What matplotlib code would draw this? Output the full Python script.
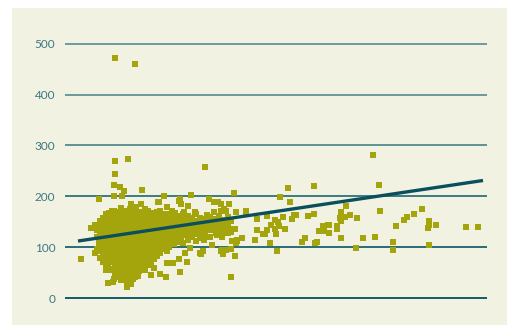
import matplotlib
matplotlib.use("Agg")
import matplotlib.pyplot as plt
from matplotlib.patches import Rectangle

# y axis
y_ticks = [0, 100, 200, 300, 400, 500]
y_tick_labels = ["0", "100", "200", "300", "400", "500"]
grid_colors = ["#135b67", "#2b6c74", "#3d7b81", "#5f9393", "#6a9a99", "#6d9c9b"]

# scattered observations (outer part of the cloud)
obs_x = [50, 70, 50, 63, 50, 49, 55, 59, 49, 57, 77, 34, 66, 76, 93,
         140, 99, 126, 169, 94, 115, 114, 116, 144, 149, 153, 156, 164, 123, 102,
         223, 249, 215, 225, 171, 181, 181, 192, 202, 218, 227, 229, 231, 243, 249,
         210, 213, 206, 214, 220, 210, 202, 211, 192, 198, 200, 170, 166, 190, 177,
         172, 171, 167, 205, 212, 170, 166, 166, 237, 240, 250, 252, 254, 258, 259,
         263, 264, 264, 272, 272, 276, 275, 276, 276, 281, 280, 285, 292, 291, 298,
         308, 314, 315, 310, 328, 328, 331, 339, 342, 349, 357, 364, 364, 363, 371,
         364, 401, 413,
         142, 149, 156, 161, 154, 166, 147, 156, 158, 161, 152, 152, 154, 158, 139,
         138, 136, 92, 107, 118, 130, 159, 163, 169, 172, 125, 135, 157, 120, 122,
         114, 102, 108, 115, 95, 101, 86, 89, 102, 109, 118,
         16, 30, 34, 26, 30, 35, 38, 43, 49, 40, 41, 43, 49, 48, 62,
         66, 58, 70, 73, 59, 43]
obs_y = [472, 460, 270, 274, 243, 223, 218, 210, 201, 201, 213, 195, 184, 184, 188,
         258, 201, 203, 207, 188, 195, 190, 184, 195, 188, 188, 184, 184, 180, 178,
         217, 221, 199, 188, 170, 172, 168, 156, 162, 160, 156, 164, 164, 162, 166,
         154, 150, 144, 141, 135, 135, 133, 125, 133, 125, 125, 135, 129, 115, 117,
         115, 109, 113, 109, 92, 82, 97, 41, 111, 117, 109, 111, 131, 141, 131,
         144, 127, 143, 141, 135, 117, 158, 170, 152, 180, 160, 164, 158, 99, 117,
         282, 223, 172, 119, 111, 94, 141, 154, 160, 166, 174, 152, 144, 137, 143,
         105, 139, 139,
         164, 170, 172, 172, 162, 152, 105, 93, 86, 95, 123, 135, 135, 133, 115,
         93, 86, 170, 172, 166, 170, 174, 127, 135, 113, 99, 88, 95, 88, 70,
         76, 68, 68, 52, 48, 41, 45, 60, 93, 107, 109,
         76, 88, 109, 137, 144, 141, 129, 156, 172, 74, 56, 29, 37, 31, 21,
         27, 39, 41, 43, 50, 66]

# dense centre of the cloud, one list of values per column
core_x = [32, 35, 38, 41, 44, 47, 50, 53, 56, 59, 62, 65, 68, 71, 74, 77, 80,
          83, 86, 89, 92, 95, 98, 101, 104, 107, 110, 113, 116, 119, 123, 127,
          131, 135, 140, 145, 151, 157, 163]
core_y = [
    [96, 120, 133],
    [78, 92, 104, 116, 128, 140, 152],
    [70, 84, 96, 108, 120, 132, 145, 158],
    [64, 76, 88, 99, 110, 121, 132, 143, 155, 166],
    [58, 70, 81, 92, 101, 113, 122, 134, 146, 158, 168],
    [55, 70, 84, 93, 104, 112, 121, 130, 141, 150, 163, 171],
    [48, 63, 74, 86, 95, 103, 111, 120, 128, 137, 146, 155, 166],
    [42, 58, 68, 79, 88, 97, 106, 114, 123, 131, 140, 149, 158, 170],
    [35, 52, 63, 72, 83, 91, 100, 109, 117, 126, 134, 143, 151, 162, 176],
    [46, 57, 66, 76, 85, 94, 102, 111, 119, 128, 137, 146, 154, 165, 172],
    [33, 50, 61, 70, 80, 88, 97, 105, 114, 122, 131, 139, 148, 157, 168],
    [44, 55, 64, 74, 83, 92, 100, 108, 117, 125, 134, 143, 152, 161, 174],
    [38, 52, 62, 71, 80, 89, 97, 106, 114, 123, 131, 140, 149, 158, 167],
    [47, 58, 67, 77, 86, 95, 103, 112, 120, 129, 137, 146, 155, 164, 178],
    [54, 64, 73, 82, 91, 99, 108, 116, 125, 134, 142, 151, 160, 170],
    [60, 70, 79, 88, 97, 105, 114, 122, 131, 139, 148, 157, 166],
    [56, 67, 76, 85, 94, 102, 111, 119, 128, 136, 145, 154, 163, 175],
    [64, 73, 82, 91, 100, 108, 117, 125, 134, 142, 151, 160, 171],
    [70, 80, 89, 97, 106, 114, 123, 131, 140, 149, 158, 168],
    [76, 86, 95, 103, 112, 120, 129, 137, 146, 155, 164],
    [82, 92, 101, 110, 118, 127, 135, 144, 153, 162],
    [88, 99, 108, 116, 125, 133, 142, 150, 159, 172],
    [96, 106, 114, 123, 131, 140, 149, 157, 166],
    [102, 113, 122, 130, 139, 147, 156, 165],
    [100, 110, 120, 128, 137, 146, 154, 162],
    [108, 118, 127, 136, 145, 153, 160],
    [115, 124, 133, 142, 150, 158, 168],
    [111, 122, 131, 140, 148, 156],
    [118, 128, 137, 146, 154, 162],
    [124, 133, 142, 150, 158, 170],
    [115, 126, 136, 145, 153, 162],
    [120, 131, 140, 149, 158],
    [112, 125, 135, 144, 152, 165],
    [118, 130, 140, 148, 158],
    [125, 138, 147, 155],
    [120, 133, 142, 150, 160],
    [128, 140, 148, 156],
    [120, 132, 144, 153],
    [127, 138, 149, 160],
]

# fitted trend line end points
trend_x = [13, 418]
trend_y = [112, 231]

W, H = 507, 325
fig = plt.figure(figsize=(W / 100, H / 100), dpi=100)
fig.patch.set_facecolor("white")
fig.patches.append(Rectangle((12 / W, 0), (W - 12) / W, (H - 8) / H,
                             transform=fig.transFigure, facecolor="#f2f2e3",
                             edgecolor="none", zorder=-1))

ax = fig.add_axes([65 / W, 0, 422 / W, (H - 8) / H])
ax.set_zorder(1)
ax.set_facecolor("none")
ax.set_xlim(0, 422)
ax.set_ylim(-53, 570)

for v, c in zip(y_ticks, grid_colors):
    ax.axhline(v, color=c, lw=1.4, zorder=1)

pts_x = list(obs_x)
pts_y = list(obs_y)
for cx, col in zip(core_x, core_y):
    pts_x.extend([cx] * len(col))
    pts_y.extend(col)

ax.plot(pts_x, pts_y, linestyle="none", marker="s", ms=3.8, mew=0,
        color="#a4a40c", zorder=2)
ax.plot(trend_x, trend_y, color="#0b4f5c", lw=2.4, solid_capstyle="butt",
        zorder=3)

ax.set_yticks(y_ticks)
ax.set_yticklabels(y_tick_labels, fontfamily="Lato", fontsize=8.5,
                   color="#3a7880")
ax.tick_params(axis="y", length=0, pad=7)
ax.set_xticks([])
for s in ax.spines.values():
    s.set_visible(False)

fig.savefig("out.png", dpi=100)
